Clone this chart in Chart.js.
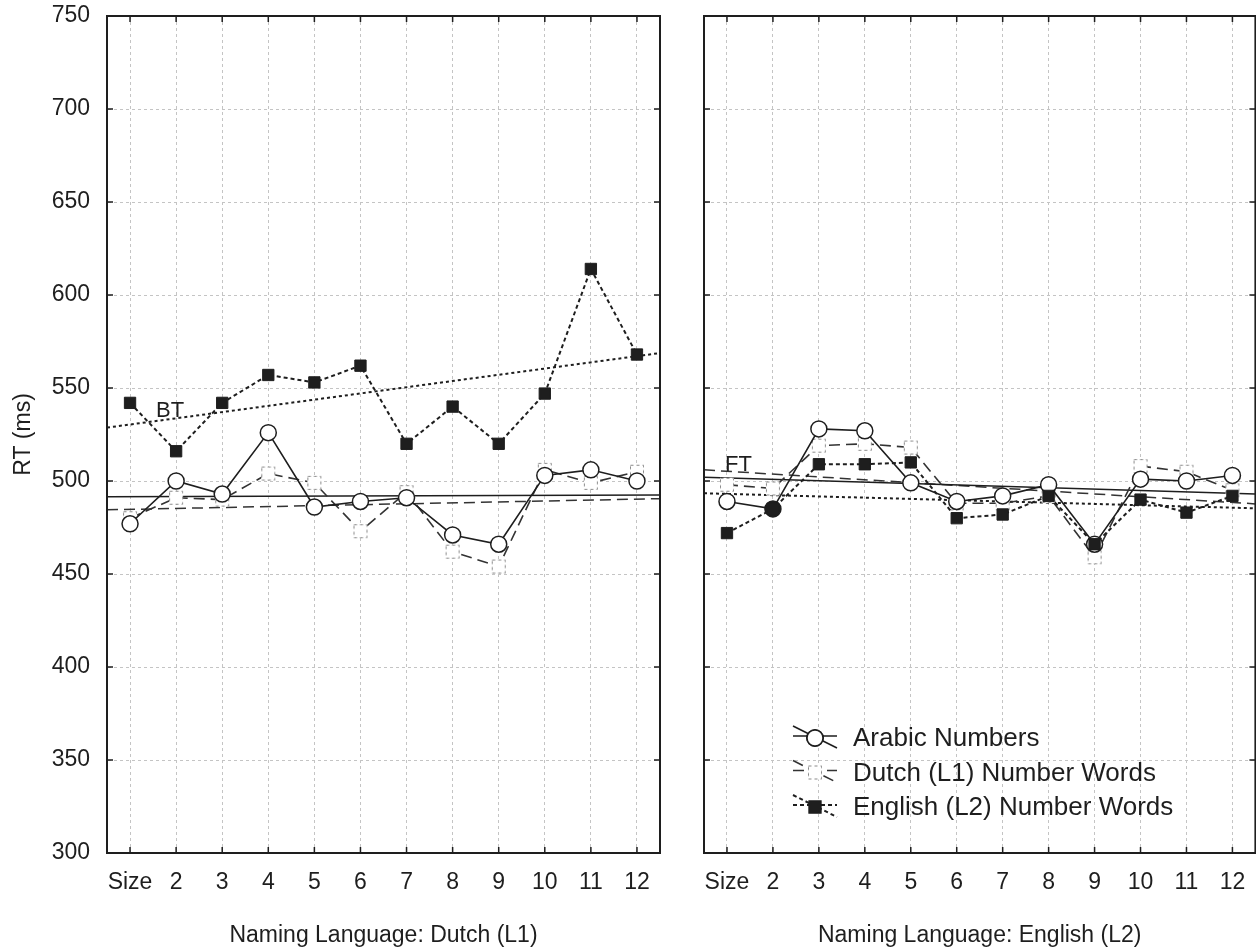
<!DOCTYPE html>
<html>
<head>
<meta charset="utf-8">
<script src="https://cdn.jsdelivr.net/npm/chart.js@4"></script>
<style>
  body { margin: 0; background: #fff; }
  #wrap { position: relative; width: 1256px; height: 950px; overflow: hidden; }
  .panel { position: absolute; top: 0; height: 950px; }
</style>
</head>
<body>
<div id="wrap">
  <div class="panel" style="left:0;width:680px"><canvas id="chart-left"></canvas></div>
  <div class="panel" style="left:680px;width:585px"><canvas id="chart-right"></canvas></div>
</div>
<script>
// number sizes on the x axis, first one is labelled "Size"
const sizeLabels = ["Size", "2", "3", "4", "5", "6", "7", "8", "9", "10", "11", "12"];
const sizes = [1, 2, 3, 4, 5, 6, 7, 8, 9, 10, 11, 12];
const rtTicks = [300, 350, 400, 450, 500, 550, 600, 650, 700, 750];

// Naming language: Dutch (L1)
const dutchArabic = [477, 500, 493, 526, 486, 489, 491, 471, 466, 503, 506, 500];
const dutchDutchWords = [480, 491, 490, 504, 499, 473, 494, 462, 454, 506, 499, 505];
const dutchEnglishWords = [542, 516, 542, 557, 553, 562, 520, 540, 520, 547, 614, 568];

// Naming language: English (L2)
const englishArabic = [489, 485, 528, 527, 499, 489, 492, 498, 466, 501, 500, 503];
const englishDutchWords = [498, 496, 519, 520, 518, 488, 488, 492, 459, 508, 505, 495];
const englishEnglishWords = [472, 485, 509, 509, 510, 480, 482, 492, 466, 490, 483, 492];

// fit lines, read at the left and right frame edges
const fitEnds = [0.5, 12.5];
const dutchFitArabic = [491.5, 492.5];
const dutchFitDutch = [484.5, 490.5];
const dutchFitEnglish = [528.7, 568.8];
const englishFitArabic = [502, 493];
const englishFitDutch = [506, 487.7];
const englishFitEnglish = [493.4, 485.3];

const seriesNames = ["Arabic Numbers", "Dutch (L1) Number Words", "English (L2) Number Words"];

const ink = "#1e1e1e";
const fontFamily = "'Liberation Sans', Arial, sans-serif";

const pts = (vals) => sizes.map((s, i) => ({ x: s, y: vals[i] }));
const fitPts = (vals) => fitEnds.map((x, i) => ({ x: x, y: vals[i] }));

// white square with a broken grey outline, like the Dutch word markers
const dutchMarker = (() => {
	const c = document.createElement("canvas");
	c.width = 16;
	c.height = 16;
	const g = c.getContext("2d");
	g.fillStyle = "#fff";
	g.fillRect(1, 1, 14, 14);
	g.strokeStyle = "#8a8a8a";
	g.lineWidth = 1;
	g.setLineDash([3, 3]);
	g.strokeRect(1.5, 1.5, 13, 13);
	return c;
})();

const styles = {
	arabic: { borderColor: ink, borderWidth: 1.6, borderDash: [] },
	dutch: { borderColor: "#333", borderWidth: 1.6, borderDash: [11, 6] },
	english: { borderColor: ink, borderWidth: 2, borderDash: [4, 3] },
};

const buildDatasets = (arabic, dutch, english, fits, arabicFill) => [
	{
		label: seriesNames[2],
		data: pts(english),
		...styles.english,
		pointStyle: "rect",
		pointRadius: 8,
		pointBackgroundColor: ink,
		pointBorderColor: ink,
		pointBorderWidth: 1,
	},
	{
		label: seriesNames[0],
		data: pts(arabic),
		...styles.arabic,
		pointStyle: "circle",
		pointRadius: 8,
		pointBackgroundColor: arabicFill,
		pointBorderColor: ink,
		pointBorderWidth: 1.5,
	},
	{
		label: seriesNames[1],
		data: pts(dutch),
		...styles.dutch,
		pointStyle: dutchMarker,
		pointRadius: 8,
	},
	{ label: "fitA", data: fitPts(fits[0]), ...styles.arabic, borderWidth: 1.5, pointRadius: 0 },
	{ label: "fitD", data: fitPts(fits[1]), ...styles.dutch, borderWidth: 1.5, pointRadius: 0 },
	{ label: "fitE", data: fitPts(fits[2]), ...styles.english, borderWidth: 2, borderDash: [3, 3], pointRadius: 0 },
];

// frame, inward ticks, a text tag on the fit line and (optionally) the legend
const framePlugin = {
	id: "frame",
	afterDraw(chart, args, opts) {
		const ctx = chart.ctx;
		const a = chart.chartArea;
		const xs = chart.scales.x;
		const ys = chart.scales.y;
		ctx.save();
		ctx.strokeStyle = ink;
		ctx.lineWidth = 1.5;
		ctx.beginPath();
		rtTicks.forEach((v) => {
			const y = ys.getPixelForValue(v);
			ctx.moveTo(a.left, y);
			ctx.lineTo(a.left + 6, y);
			ctx.moveTo(a.right, y);
			ctx.lineTo(a.right - 6, y);
		});
		sizes.forEach((v) => {
			const x = xs.getPixelForValue(v);
			ctx.moveTo(x, a.bottom);
			ctx.lineTo(x, a.bottom - 6);
			ctx.moveTo(x, a.top);
			ctx.lineTo(x, a.top + 6);
		});
		ctx.stroke();
		ctx.lineWidth = 2;
		ctx.strokeRect(a.left, a.top, a.right - a.left, a.bottom - a.top);

		ctx.fillStyle = ink;
		ctx.font = "22px " + fontFamily;
		ctx.textAlign = "center";
		ctx.textBaseline = "middle";
		ctx.fillText(opts.tag.text, xs.getPixelForValue(opts.tag.x), ys.getPixelForValue(opts.tag.y));

		if (opts.legend) {
			const metas = [1, 2, 0].map((i) => chart.getDatasetMeta(i));
			const lx = opts.legend.x;
			metas.forEach((meta, row) => {
				const ds = chart.data.datasets[meta.index];
				const y = opts.legend.y + row * 34.5;
				ctx.save();
				ctx.strokeStyle = ds.borderColor;
				ctx.lineWidth = ds.borderWidth;
				ctx.setLineDash(ds.borderDash);
				ctx.beginPath();
				ctx.moveTo(lx, y - 2);
				ctx.lineTo(lx + 44, y - 2);
				ctx.moveTo(lx, y - 12);
				ctx.lineTo(lx + 44, y + 10);
				ctx.stroke();
				ctx.restore();
				const p = { x: lx + 22, y: y };
				const el = meta.data[0];
				Chart.helpers.drawPoint(ctx, {
					pointStyle: el.options.pointStyle,
					radius: el.options.radius,
					borderWidth: el.options.borderWidth,
					rotation: 0,
				}, p.x, p.y);
				if (el.options.pointStyle !== dutchMarker) {
					ctx.save();
					ctx.fillStyle = row === 0 ? "#fff" : ink;
					ctx.strokeStyle = ink;
					ctx.lineWidth = el.options.borderWidth;
					ctx.beginPath();
					if (row === 0) {
						ctx.arc(p.x, p.y, 8, 0, Math.PI * 2);
					} else {
						ctx.rect(p.x - 5.6, p.y - 5.6, 11.2, 11.2);
					}
					ctx.fill();
					ctx.stroke();
					ctx.restore();
				}
				ctx.fillStyle = ink;
				ctx.font = "26px " + fontFamily;
				ctx.textAlign = "left";
				ctx.textBaseline = "middle";
				ctx.fillText(ds.label, lx + 60, y + 1);
			});
		}
		ctx.restore();
	},
};

const makeOptions = (isLeft, title, tag, legend) => ({
	responsive: true,
	maintainAspectRatio: false,
	animation: false,
	layout: {
		padding: isLeft ? { left: 0, right: 20, top: 16, bottom: 0 } : { left: 0, right: 1, top: 16, bottom: 0 },
	},
	scales: {
		x: {
			type: "linear",
			min: 0.5,
			max: 12.5,
			afterBuildTicks: (scale) => {
				scale.ticks = sizes.map((v) => ({ value: v }));
			},
			afterFit: (scale) => {
				scale.height = 97;
			},
			// the gap under the axis comes from an invisible tick, so it adds no side padding
			grid: { color: "#c4c4c4", lineWidth: 1, drawTicks: true, tickLength: 16, tickColor: "rgba(0,0,0,0)" },
			border: { display: true, color: ink, width: 2, dash: [3, 3] },
			ticks: {
				color: ink,
				padding: 0,
				maxRotation: 0,
				autoSkip: false,
				font: { family: fontFamily, size: 23 },
				callback: (value) => sizeLabels[sizes.indexOf(value)],
			},
			title: {
				display: true,
				text: title,
				color: ink,
				padding: { top: 0, bottom: 1 },
				font: { family: fontFamily, size: 23 },
			},
		},
		y: {
			min: 300,
			max: 750,
			afterBuildTicks: (scale) => {
				scale.ticks = rtTicks.map((v) => ({ value: v }));
			},
			afterFit: (scale) => {
				scale.width = isLeft ? 107 : 24;
			},
			grid: { color: "#c4c4c4", lineWidth: 1, drawTicks: true, tickLength: 17, tickColor: "rgba(0,0,0,0)" },
			border: { display: true, color: ink, width: 2, dash: [3, 3] },
			ticks: {
				display: isLeft,
				color: ink,
				padding: 0,
				font: { family: fontFamily, size: 23 },
			},
			title: {
				display: isLeft,
				text: "RT (ms)",
				color: ink,
				padding: { top: 10, bottom: 0 },
				font: { family: fontFamily, size: 23 },
			},
		},
	},
	plugins: {
		legend: { display: false },
		tooltip: { enabled: false },
		frame: { tag: tag, legend: legend },
	},
});

new Chart(document.getElementById("chart-left"), {
	type: "line",
	data: {
		datasets: buildDatasets(
			dutchArabic,
			dutchDutchWords,
			dutchEnglishWords,
			[dutchFitArabic, dutchFitDutch, dutchFitEnglish],
			"#fff"
		),
	},
	options: makeOptions(true, "Naming Language: Dutch (L1)", { text: "BT", x: 1.87, y: 537.6 }, null),
	plugins: [framePlugin],
});

new Chart(document.getElementById("chart-right"), {
	type: "line",
	data: {
		datasets: buildDatasets(
			englishArabic,
			englishDutchWords,
			englishEnglishWords,
			[englishFitArabic, englishFitDutch, englishFitEnglish],
			// the circle at size 2 is printed solid
			englishArabic.map((v, i) => (i === 1 ? ink : "#fff"))
		),
	},
	options: makeOptions(false, "Naming Language: English (L2)", { text: "FT", x: 1.25, y: 508.6 }, { x: 113, y: 738 }),
	plugins: [framePlugin],
});
</script>
</body>
</html>
